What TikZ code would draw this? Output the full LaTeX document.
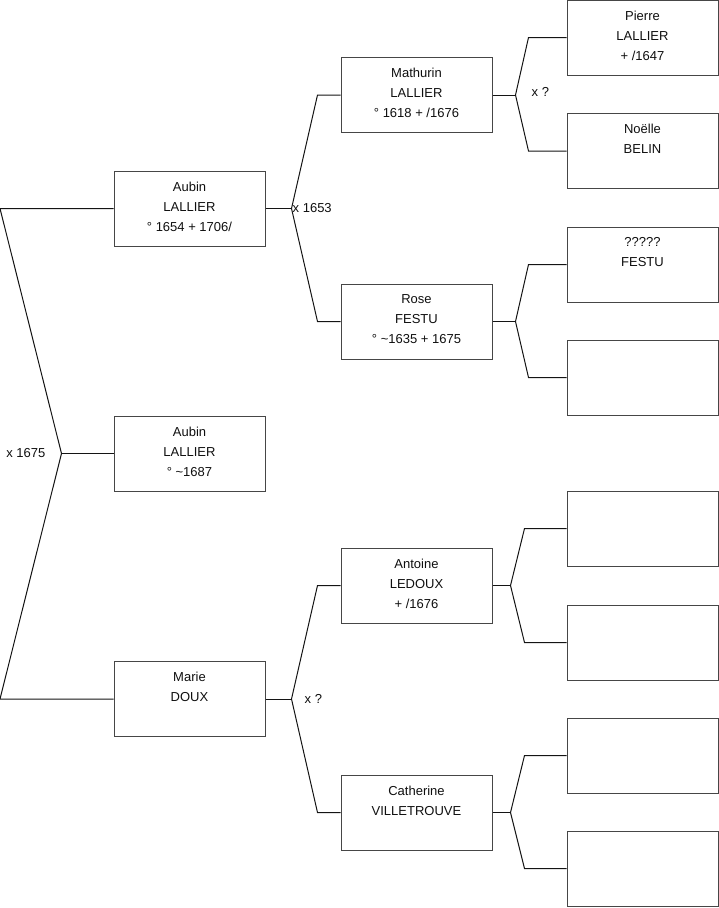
\documentclass[tikz,border=0pt]{standalone}
\usepackage{fontspec}
\setmainfont{Liberation Sans}

\begin{document}
\begin{tikzpicture}[
		x=1pt,
		y=-1pt,
		boite/.style={draw=CouleurBord,line width=1pt,minimum width=151pt,minimum height=75pt,inner sep=0pt},
		texte/.style={anchor=north,yshift=-11pt,align=center,inner sep=0pt,text=CouleurTexte,font=\fontsize{13}{20}\selectfont},
		union/.style={text=CouleurTexte,font=\fontsize{13}{15}\selectfont,inner sep=0pt},
		lien/.style={draw=CouleurLien,line width=1pt}
	]
	% ===== COULEURS =====
	\definecolor{CouleurBord}{RGB}{70,70,70}
	\definecolor{CouleurLien}{RGB}{20,20,20}
	\definecolor{CouleurTexte}{RGB}{15,15,15}

	\useasboundingbox (0,0) rectangle (719,908);

	% ===== GENERATION 1 =====
	\node[boite] (aubin) at (189.5,208.5) {};
	\node[texte] (aubin-t) at (aubin.north) {Aubin\\LALLIER\\° 1654 + 1706/};
	\node[boite] (enfant) at (189.5,453.5) {};
	\node[texte] (enfant-t) at (enfant.north) {Aubin\\LALLIER\\° \textasciitilde1687};
	\node[boite] (marie) at (189.5,699) {};
	\node[texte] (marie-t) at (marie.north) {Marie\\DOUX};

	% ===== GENERATION 2 =====
	\node[boite] (mathurin) at (416.5,95) {};
	\node[texte] (mathurin-t) at (mathurin.north) {Mathurin\\LALLIER\\° 1618 + /1676};
	\node[boite] (rose) at (416.5,321.5) {};
	\node[texte] (rose-t) at (rose.north) {Rose\\FESTU\\° \textasciitilde1635 + 1675};
	\node[boite] (antoine) at (416.5,585.5) {};
	\node[texte] (antoine-t) at (antoine.north) {Antoine\\LEDOUX\\+ /1676};
	\node[boite] (catherine) at (416.5,812.5) {};
	\node[texte] (catherine-t) at (catherine.north) {Catherine\\VILLETROUVE};

	% ===== GENERATION 3 =====
	\node[boite] (pierre) at (642.5,37.5) {};
	\node[texte] (pierre-t) at (pierre.north) {Pierre\\LALLIER\\+ /1647};
	\node[boite] (noelle) at (642.5,151) {};
	\node[texte] (noelle-t) at (noelle.north) {Noëlle\\BELIN};
	\node[boite] (festu) at (642.5,264.5) {};
	\node[texte] (festu-t) at (festu.north) {?????\\FESTU};
	\node[boite] (inconnue1) at (642.5,377.5) {};
	\node[boite] (inconnu2) at (642.5,528.5) {};
	\node[boite] (inconnue2) at (642.5,642.5) {};
	\node[boite] (inconnu3) at (642.5,755.5) {};
	\node[boite] (inconnue3) at (642.5,868.5) {};

	% ===== FOURCHES =====
	\coordinate (f0) at ([xshift=-52pt]enfant.west);
	\coordinate (f0h) at (0,208.5);
	\coordinate (f0b) at (0,699);
	\coordinate (f1) at ([xshift=26pt]aubin.east);
	\coordinate (f2) at ([xshift=26pt]marie.east);
	\coordinate (f3) at ([xshift=23pt]mathurin.east);
	\coordinate (f4) at ([xshift=23pt]rose.east);
	\coordinate (f5) at ([xshift=18pt]antoine.east);
	\coordinate (f6) at ([xshift=18pt]catherine.east);

	% ===== LIENS =====
	\draw[lien] (aubin.west) -- (f0h) -- (f0) -- (f0b) -- (marie.west);
	\draw[lien] (f0) -- (enfant.west);

	\draw[lien] (aubin.east) -- (f1);
	\draw[lien] (mathurin.west) -- ++(-23,0) -- (f1) -- ([xshift=-23pt]rose.west) -- (rose.west);
	\draw[lien] (marie.east) -- (f2);
	\draw[lien] (antoine.west) -- ++(-23,0) -- (f2) -- ([xshift=-23pt]catherine.west) -- (catherine.west);

	\draw[lien] (mathurin.east) -- (f3);
	\draw[lien] (pierre.west) -- ++(-38,0) -- (f3) -- ([xshift=-38pt]noelle.west) -- (noelle.west);
	\draw[lien] (rose.east) -- (f4);
	\draw[lien] (festu.west) -- ++(-38,0) -- (f4) -- ([xshift=-38pt]inconnue1.west) -- (inconnue1.west);
	\draw[lien] (antoine.east) -- (f5);
	\draw[lien] (inconnu2.west) -- ++(-42,0) -- (f5) -- ([xshift=-42pt]inconnue2.west) -- (inconnue2.west);
	\draw[lien] (catherine.east) -- (f6);
	\draw[lien] (inconnu3.west) -- ++(-42,0) -- (f6) -- ([xshift=-42pt]inconnue3.west) -- (inconnue3.west);

	% ===== MARIAGES =====
	\node[union,anchor=east] (m0) at ([xshift=-16pt]f0) {x 1675};
	\node[union,anchor=west] (m1) at ([xshift=1pt]f1) {x 1653};
	\node[union,anchor=west] (m2) at ([xshift=13pt]f2) {x ?};
	\node[union,anchor=west] (m3) at ([xshift=16pt,yshift=3pt]f3) {x ?};

\end{tikzpicture}
\end{document}
